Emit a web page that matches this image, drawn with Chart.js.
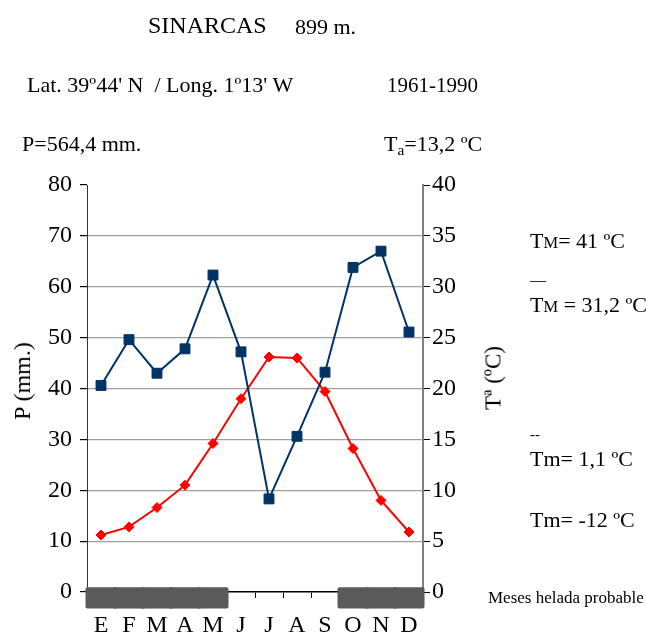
<!DOCTYPE html>
<html>
<head>
<meta charset="utf-8">
<script src="https://cdn.jsdelivr.net/npm/chart.js@4.4.1/dist/chart.umd.min.js"></script>
<style>
  html, body { margin: 0; padding: 0; background: #fff; }
  #wrap { position: relative; width: 646px; height: 635px; overflow: hidden; }
  canvas { position: absolute; left: 0; top: 0; }
  .t { position: absolute; font-family: 'Liberation Serif', 'Times New Roman', serif; color: #000; line-height: 1; white-space: pre; }
  .sm { font-size: 75%; }
  sub { font-size: 70%; vertical-align: -0.25em; line-height: 0; }
</style>
</head>
<body>
<div id="wrap">
  <canvas id="c" width="646" height="635"></canvas>
  <div class="t" style="left:148px;top:13px;font-size:24px;">SINARCAS</div>
  <div class="t" style="left:295px;top:16px;font-size:22px;">899 m.</div>
  <div class="t" style="left:27px;top:74px;font-size:22px;">Lat. 39º44' N  / Long. 1º13' W</div>
  <div class="t" style="left:387px;top:75px;font-size:21px;">1961-1990</div>
  <div class="t" style="left:22px;top:133px;font-size:22px;">P=564,4 mm.</div>
  <div class="t" style="left:384px;top:133px;font-size:22px;">T<sub>a</sub>=13,2 ºC</div>
  <div class="t" style="left:530px;top:230px;font-size:22px;">T<span class="sm">M</span>= 41 ºC</div>
  <div class="t" style="left:530px;top:272px;font-size:16px;">—</div>
  <div class="t" style="left:530px;top:294px;font-size:22px;">T<span class="sm">M</span> = 31,2 ºC</div>
  <div class="t" style="left:530px;top:427px;font-size:15px;">--</div>
  <div class="t" style="left:530px;top:448px;font-size:22px;">Tm= 1,1 ºC</div>
  <div class="t" style="left:530px;top:509px;font-size:22px;">Tm= -12 ºC</div>
  <div class="t" style="left:488px;top:589px;font-size:17px;">Meses helada probable</div>
  <div class="t" style="left:22px;top:381px;font-size:24px;transform:translate(-50%,-50%) rotate(-90deg);">P (mm.)</div>
  <div class="t" style="left:493px;top:378px;font-size:23px;transform:translate(-50%,-50%) rotate(-90deg);">Tª (ºC)</div>
</div>
<script>
// ---- data ----
const months = ['E','F','M','A','M','J','J','A','S','O','N','D'];
const precipitation = [40.6, 49.6, 43.0, 47.8, 62.3, 47.2, 18.3, 30.6, 43.2, 63.8, 67.0, 51.1];
const temperature = [5.6, 6.4, 8.3, 10.5, 14.6, 19.0, 23.1, 23.0, 19.7, 14.1, 9.0, 5.9];
const frostMonths = [1, 1, 1, 1, 1, 0, 0, 0, 0, 1, 1, 1];
const precipAxis = { min: 0, max: 80, step: 10 };
const tempAxis = { min: 0, max: 40, step: 5 };

// ---- styling ----
const SERIF = "'Liberation Serif', 'Times New Roman', serif";
const FROST_LOW = -3.7, FROST_HIGH = 0.8; // band extent on hidden 0..100 axis

const frostData = frostMonths.map(f => f ? [FROST_LOW, FROST_HIGH] : null);

new Chart(document.getElementById('c'), {
  data: {
    labels: months,
    datasets: [
      {
        type: 'line',
        label: 'T',
        data: temperature,
        yAxisID: 'yT',
        borderColor: '#ff0000',
        backgroundColor: '#ff0000',
        borderWidth: 2,
        pointStyle: 'rectRot',
        pointRadius: 5,
        pointBorderWidth: 1,
        tension: 0,
        order: 1
      },
      {
        type: 'line',
        label: 'P',
        data: precipitation,
        yAxisID: 'yP',
        borderColor: '#003366',
        backgroundColor: '#003366',
        borderWidth: 2,
        pointStyle: 'rect',
        pointRadius: 7,
        pointBorderWidth: 1,
        tension: 0,
        order: 0
      },
      {
        type: 'bar',
        label: 'helada',
        data: frostData,
        yAxisID: 'yF',
        backgroundColor: '#5a5a5a',
        borderWidth: 0,
        borderSkipped: false,
        inflateAmount: 1.5,
        categoryPercentage: 1,
        barPercentage: 1,
        clip: false,
        order: 2,
        borderRadius: (ctx) => {
          const i = ctx.dataIndex;
          const l = !(i > 0 && frostMonths[i - 1]);
          const r = !(i < frostMonths.length - 1 && frostMonths[i + 1]);
          return { topLeft: l ? 2 : 0, bottomLeft: l ? 2 : 0, topRight: r ? 2 : 0, bottomRight: r ? 2 : 0 };
        }
      }
    ]
  },
  options: {
    responsive: false,
    animation: false,
    events: [],
    layout: { padding: { left: 0, top: 185, right: 183, bottom: 0 } },
    plugins: { legend: { display: false }, tooltip: { enabled: false }, title: { display: false } },
    scales: {
      x: {
        type: 'category',
        offset: true,
        afterFit: (s) => { s.height = 43; },
        grid: { offset: true, drawOnChartArea: false, tickLength: 6, color: '#000', lineWidth: 1 },
        border: { color: '#000', width: 1.5 },
        ticks: { color: '#000', padding: 13, maxRotation: 0, autoSkip: false, font: { family: SERIF, size: 24 } }
      },
      yP: {
        position: 'left',
        min: precipAxis.min, max: precipAxis.max,
        afterFit: (s) => { s.width = 87; },
        ticks: { stepSize: precipAxis.step, color: '#000', padding: 8, font: { family: SERIF, size: 24 } },
        grid: {
          tickLength: 7,
          tickColor: '#000',
          color: (ctx) => (ctx.tick && (ctx.tick.value === precipAxis.min || ctx.tick.value === precipAxis.max)) ? 'rgba(0,0,0,0)' : '#a0a0a0',
          lineWidth: 1.2
        },
        border: { color: '#333', width: 1 }
      },
      yT: {
        position: 'right',
        min: tempAxis.min, max: tempAxis.max,
        afterFit: (s) => { s.width = 40; },
        ticks: { stepSize: tempAxis.step, color: '#000', padding: 2, font: { family: SERIF, size: 24 } },
        grid: { drawOnChartArea: false, tickLength: 7, tickColor: '#000' },
        border: { color: '#808080', width: 2 }
      },
      yF: {
        display: false,
        min: 0, max: 100
      }
    }
  }
});
</script>
</body>
</html>
